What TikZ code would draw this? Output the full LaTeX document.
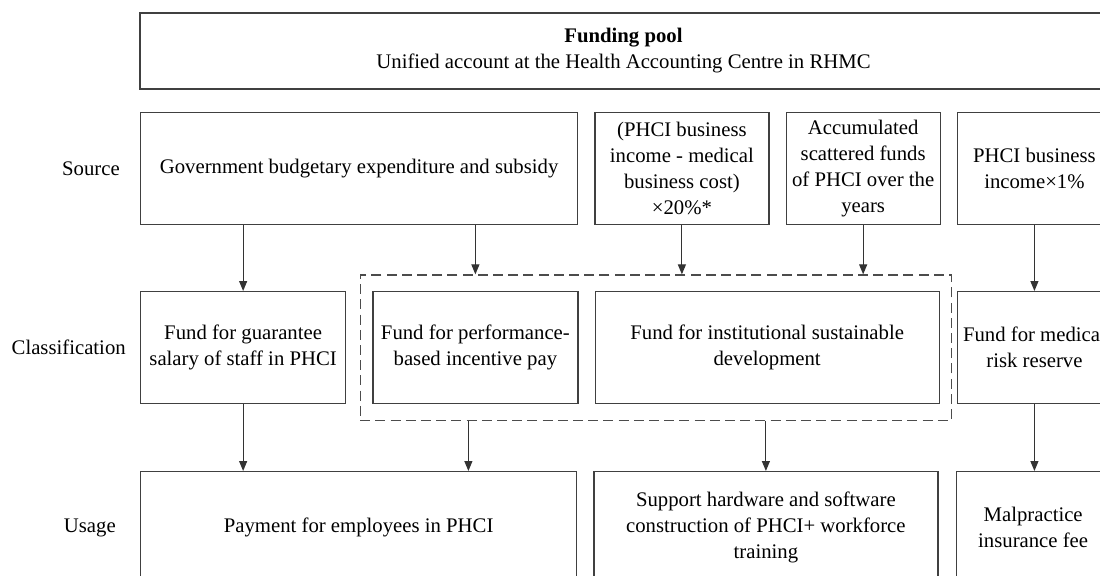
\documentclass[tikz,border=0pt]{standalone}
\usepackage{fontspec}
\setmainfont{Liberation Serif}
\usetikzlibrary{arrows.meta}
\usetikzlibrary{positioning,fit}

\begin{document}
\begin{tikzpicture}
\tikzset{fbox/.style={rectangle,draw=black!75,line width=0.9pt,align=center,minimum height=2.8cm,inner sep=2pt,font=\fontsize{14.75}{18.5}\selectfont},
rowlabel/.style={inner sep=0pt,font=\fontsize{14.75}{18.5}\selectfont},
flow/.style={draw=black!80,line width=0.8pt,-{Triangle[length=0.25cm,width=0.2cm]}},
node distance=0.4cm}
\path[fill=white](0,0) rectangle (27.5,-14.4);
\clip (0,0) rectangle (27.5,-14.4);
\node[fbox,minimum width=24.175cm,minimum height=1.9cm](pool) at (15.5875,-1.275){\textbf{Funding pool}\\Unified account at the Health Accounting Centre in RHMC};
\node[fbox,minimum width=10.925cm,anchor=north west](gov) at (3.5,-2.8){Government budgetary expenditure and subsidy};
\node[fbox,minimum width=4.35cm](surplus)[right=of gov]{(PHCI business\\income - medical\\business cost)\\×20\%*};
\node[fbox,minimum width=3.85cm](scattered)[right=of surplus]{Accumulated\\scattered funds\\of PHCI over the\\years};
\node[fbox,minimum width=3.85cm](income)[right=of scattered]{PHCI business\\income×1\%};
\node[fbox,minimum width=5.125cm,anchor=north west](salary) at (3.5,-7.275){Fund for guarantee\\salary of staff in PHCI};
\node[fbox,minimum width=5.125cm](perf)[right=0.65cm of salary]{Fund for performance-\\based incentive pay};
\node[fbox,minimum width=8.6cm](devfund)[right=of perf]{Fund for institutional sustainable\\development};
\node[fbox,minimum width=3.85cm](riskfund)[right=0.425cm of devfund]{Fund for medical\\risk reserve};
\node[draw=black!70,line width=0.9pt,dash pattern=on 0.25cm off 0.13cm,inner xsep=0.3cm,inner ysep=0.4cm,fit=(perf)(devfund)](devgrp){};
\node[fbox,minimum width=10.9cm,anchor=north west](payment) at (3.5,-11.775){Payment for employees in PHCI};
\node[fbox,minimum width=8.6cm](training)[right=of payment]{Support hardware and software\\construction of PHCI+ workforce\\training};
\node[fbox,minimum width=3.85cm](insurance)[right=0.425cm of training]{Malpractice\\insurance fee};
\node[rowlabel](srclabel)[left=0.5cm of gov]{Source};
\node[rowlabel](clslabel)[left=0.35cm of salary]{Classification};
\node[rowlabel](uselabel)[left=0.6cm of payment]{Usage};
\coordinate (perfout) at ([xshift=-0.175cm]devgrp.south -| perf);
\draw[flow](gov.south -| salary) -- (salary);
\draw[flow](gov.south -| perf) -- (perf |- devgrp.north);
\draw[flow](surplus) -- (surplus |- devgrp.north);
\draw[flow](scattered) -- (scattered |- devgrp.north);
\draw[flow](income) -- (income |- riskfund.north);
\draw[flow](salary) -- (salary |- payment.north);
\draw[flow](perfout) -- (perfout |- payment.north);
\draw[flow](devgrp.south -| training) -- (training);
\draw[flow](riskfund.south -| income) -- (income |- insurance.north);
\end{tikzpicture}
\end{document}
